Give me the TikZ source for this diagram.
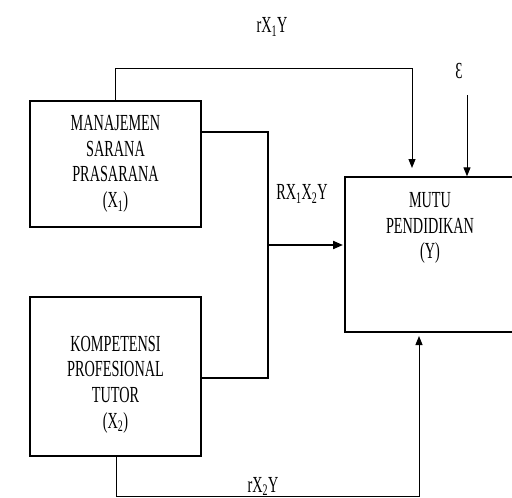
\documentclass[tikz,border=0pt]{standalone}
\usepackage{fontspec}
\setmainfont{Liberation Serif}[FakeStretch=0.62]
\usetikzlibrary{arrows.meta,calc}
\begin{document}
\begin{tikzpicture}[x=1pt,y=-1pt,
  box/.style={draw,line width=1.3pt,rectangle,inner sep=0pt},
  txt/.style={align=center,font=\fontsize{23}{25.7}\selectfont,inner sep=0pt},
  lbl/.style={font=\fontsize{23}{23}\selectfont,inner sep=0pt},
  conn/.style={line width=1pt},
  arr/.style={conn,-{Triangle[length=9pt,width=7pt]}},
  thickarr/.style={line width=2pt,-{Triangle[length=10pt,width=8pt]}}]
\useasboundingbox (0,0) rectangle (512,498);
% boxes
\node[box,minimum width=171pt,minimum height=126pt] (x1) at (115.5,164) {};
\node[box,minimum width=171pt,minimum height=159pt] (x2) at (115.5,376.5) {};
\node[box,minimum width=171pt,minimum height=155pt] (y) at (430.5,254.5) {};
% texts
\node[txt] (t1) at (x1.center) {MANAJEMEN\\SARANA\\PRASARANA\\(X\textsubscript{1})};
\node[txt] (t2) at ($(x2.center)+(0,8)$) {KOMPETENSI\\PROFESIONAL\\TUTOR\\(X\textsubscript{2})};
\node[txt] (ty) at (430,228) {MUTU\\PENDIDIKAN\\(Y)};
% labels
\node[lbl] (l1) at (272,27) {rX\textsubscript{1}Y};
\node[lbl] (eps) at (459,71) {Ɛ};
\node[lbl] (l12) at (302,194) {RX\textsubscript{1}X\textsubscript{2}Y};
\node[lbl,anchor=base] (l2) at (263,492) {rX\textsubscript{2}Y};
% coordinates
\coordinate (a1) at (115.5,68);
\coordinate (a2) at (412,68);
\coordinate (a3) at (412,168);
\coordinate (e1) at (467,95);
\coordinate (m1) at (268,132);
\coordinate (m2) at (268,378);
\coordinate (m3) at (268,245);
\coordinate (m4) at (343,245);
\coordinate (b1) at (116,496);
\coordinate (b2) at (419,496);
\coordinate (b3) at (419,336);
% connectors
\draw[arr] (x1.north) -- (a1) -- (a2) -- (a3);
\draw[arr] (e1) -- (e1 |- y.north);
\draw[line width=1.5pt] (x1.east |- m1) -- (m1) -- (m2) -- (x2.east |- m2);
\draw[thickarr] (m3) -- (m4);
\draw[arr] (x2.south -| b1) -- (b1) -- (b2) -- (b3);
\end{tikzpicture}
\end{document}
